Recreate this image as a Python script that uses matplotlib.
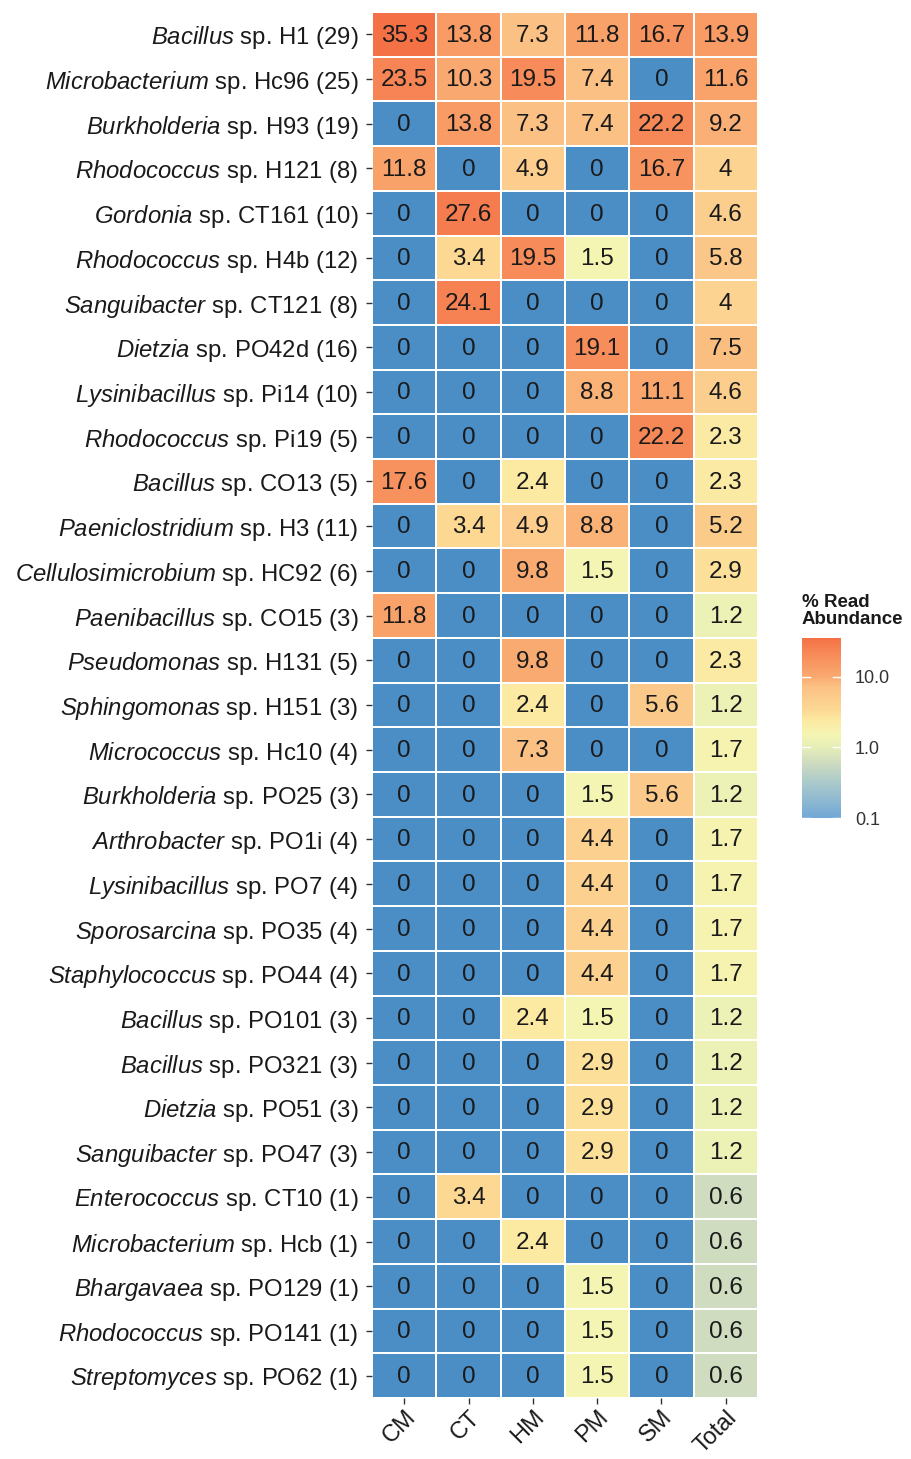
import numpy as np
import matplotlib
matplotlib.use("Agg")
import matplotlib.pyplot as plt
from matplotlib.colors import LinearSegmentedColormap, LogNorm

plt.rcParams["font.family"] = ["Liberation Sans", "DejaVu Sans"]
plt.rcParams["mathtext.fontset"] = "custom"
plt.rcParams["mathtext.it"] = "Liberation Sans:italic"
plt.rcParams["mathtext.rm"] = "Liberation Sans"

# genus (italic) / rest of label
genera = ["Bacillus", "Microbacterium", "Burkholderia", "Rhodococcus", "Gordonia",
          "Rhodococcus", "Sanguibacter", "Dietzia", "Lysinibacillus", "Rhodococcus",
          "Bacillus", "Paeniclostridium", "Cellulosimicrobium", "Paenibacillus", "Pseudomonas",
          "Sphingomonas", "Micrococcus", "Burkholderia", "Arthrobacter", "Lysinibacillus",
          "Sporosarcina", "Staphylococcus", "Bacillus", "Bacillus", "Dietzia",
          "Sanguibacter", "Enterococcus", "Microbacterium", "Bhargavaea", "Rhodococcus",
          "Streptomyces"]
strains = ["sp. H1 (29)", "sp. Hc96 (25)", "sp. H93 (19)", "sp. H121 (8)", "sp. CT161 (10)",
           "sp. H4b (12)", "sp. CT121 (8)", "sp. PO42d (16)", "sp. Pi14 (10)", "sp. Pi19 (5)",
           "sp. CO13 (5)", "sp. H3 (11)", "sp. HC92 (6)", "sp. CO15 (3)", "sp. H131 (5)",
           "sp. H151 (3)", "sp. Hc10 (4)", "sp. PO25 (3)", "sp. PO1i (4)", "sp. PO7 (4)",
           "sp. PO35 (4)", "sp. PO44 (4)", "sp. PO101 (3)", "sp. PO321 (3)", "sp. PO51 (3)",
           "sp. PO47 (3)", "sp. CT10 (1)", "sp. Hcb (1)", "sp. PO129 (1)", "sp. PO141 (1)",
           "sp. PO62 (1)"]
sites = ["CM", "CT", "HM", "PM", "SM", "Total"]

abundance = np.array([
    [35.3, 13.8, 7.3, 11.8, 16.7, 13.9],
    [23.5, 10.3, 19.5, 7.4, 0, 11.6],
    [0, 13.8, 7.3, 7.4, 22.2, 9.2],
    [11.8, 0, 4.9, 0, 16.7, 4],
    [0, 27.6, 0, 0, 0, 4.6],
    [0, 3.4, 19.5, 1.5, 0, 5.8],
    [0, 24.1, 0, 0, 0, 4],
    [0, 0, 0, 19.1, 0, 7.5],
    [0, 0, 0, 8.8, 11.1, 4.6],
    [0, 0, 0, 0, 22.2, 2.3],
    [17.6, 0, 2.4, 0, 0, 2.3],
    [0, 3.4, 4.9, 8.8, 0, 5.2],
    [0, 0, 9.8, 1.5, 0, 2.9],
    [11.8, 0, 0, 0, 0, 1.2],
    [0, 0, 9.8, 0, 0, 2.3],
    [0, 0, 2.4, 0, 5.6, 1.2],
    [0, 0, 7.3, 0, 0, 1.7],
    [0, 0, 0, 1.5, 5.6, 1.2],
    [0, 0, 0, 4.4, 0, 1.7],
    [0, 0, 0, 4.4, 0, 1.7],
    [0, 0, 0, 4.4, 0, 1.7],
    [0, 0, 0, 4.4, 0, 1.7],
    [0, 0, 2.4, 1.5, 0, 1.2],
    [0, 0, 0, 2.9, 0, 1.2],
    [0, 0, 0, 2.9, 0, 1.2],
    [0, 0, 0, 2.9, 0, 1.2],
    [0, 3.4, 0, 0, 0, 0.6],
    [0, 0, 2.4, 0, 0, 0.6],
    [0, 0, 0, 1.5, 0, 0.6],
    [0, 0, 0, 1.5, 0, 0.6],
    [0, 0, 0, 1.5, 0, 0.6],
])

vmin, vmax = 0.1, 35.3
lo, hi = np.log10(vmin), np.log10(vmax)
stops = [(-1.0, "#72a8d6"), (-0.5, "#abcacb"), (-0.22, "#cfdcbf"), (0.0, "#e6eeb8"),
         (0.18, "#f4f5b3"), (0.38, "#fce9a2"), (0.53, "#fcd893"), (0.86, "#fbc184"),
         (1.0, "#f9aa70"), (1.3, "#f78c5a"), (hi, "#f47146")]
cmap = LinearSegmentedColormap.from_list(
    "abund", [((s - lo) / (hi - lo), c) for s, c in stops])
cmap.set_bad("#4b8dc5")
norm = LogNorm(vmin=vmin, vmax=vmax)

fig = plt.figure(figsize=(9.12, 14.59), dpi=100)
ax = fig.add_axes([0.408, 0.0418, 0.423, 0.95])

nrow, ncol = abundance.shape
masked = np.ma.masked_less_equal(abundance, 0)
ax.pcolormesh(np.arange(ncol + 1), np.arange(nrow + 1), masked, cmap=cmap, norm=norm,
              edgecolors="white", linewidth=1.2)
ax.set_xlim(0, ncol)
ax.set_ylim(nrow, 0)

for i in range(nrow):
    for j in range(ncol):
        v = abundance[i, j]
        txt = "0" if v == 0 else ("%g" % v)
        ax.text(j + 0.5, i + 0.53, txt, ha="center", va="center", fontsize=17.5, color="#1a1a1a")

labels = [r"$\mathit{%s}$ %s" % (g, s) for g, s in zip(genera, strains)]
ax.set_yticks(np.arange(nrow) + 0.5)
ax.set_yticklabels(labels, fontsize=17.2, color="#1a1a1a")
ax.set_xticks(np.arange(ncol) + 0.5)
ax.set_xticklabels(sites, fontsize=17, color="#1a1a1a", rotation=45, ha="right",
                   va="top", rotation_mode="anchor")
ax.tick_params(length=4, width=1, color="#333333")
ax.tick_params(axis="y", pad=6)
ax.tick_params(axis="x", pad=2)
for sp in ax.spines.values():
    sp.set_visible(False)

# colour bar legend
cax = fig.add_axes([0.8794, 0.4393, 0.0428, 0.1234])
grad = np.logspace(lo, hi, 300)
cax.pcolormesh([0, 1], grad, grad[:-1, None], cmap=cmap, norm=norm)
cax.set_yscale("log")
cax.set_ylim(vmin, vmax)
cax.set_xlim(0, 1)
cax.set_xticks([])
cax.set_yticks([0.1, 1, 10])
cax.set_yticklabels(["0.1", "1.0", "10.0"], fontsize=13, color="#333333")
cax.yaxis.set_minor_locator(plt.NullLocator())
cax.yaxis.tick_right()
cax.tick_params(length=0, pad=10)
for t in [0.1, 1, 10]:
    cax.plot([0, 0.2], [t, t], color="white", lw=1)
    cax.plot([0.8, 1], [t, t], color="white", lw=1)
for sp in cax.spines.values():
    sp.set_visible(False)
fig.text(0.879, 0.5695, "% Read\nAbundance", fontsize=13.5, fontweight="bold",
         ha="left", va="bottom", linespacing=1.0, color="#1a1a1a")

fig.savefig("out.png", dpi=100)
